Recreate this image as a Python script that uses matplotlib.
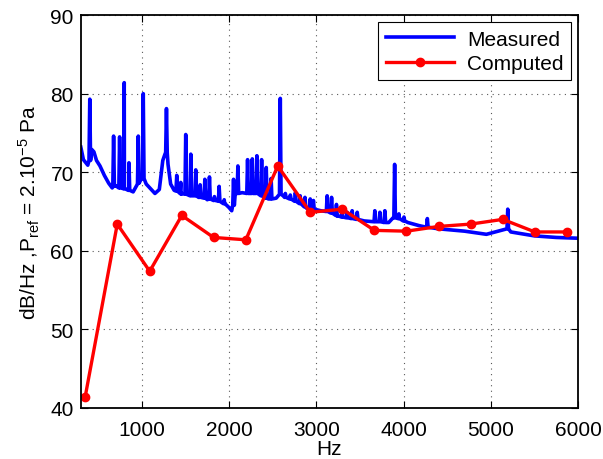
import numpy as np
import matplotlib.pyplot as plt

plt.rcParams['font.family'] = ['Liberation Sans', 'DejaVu Sans']
plt.rcParams['mathtext.default'] = 'regular'

# Computed values (red)
computed_hz = [350, 718, 1090, 1458, 1822, 2192, 2558, 2930, 3300, 3666,
               4034, 4402, 4770, 5138, 5506, 5874]
computed_db = [41.4, 63.4, 57.4, 64.5, 61.7, 61.4, 70.8, 64.9, 65.3, 62.6,
               62.5, 63.1, 63.4, 64.0, 62.4, 62.4]

# Measured spectrum (blue): smooth floor + narrow peaks
floor_hz = [300, 330, 380, 425, 450, 480, 520, 570, 620, 660, 700, 760, 800,
            850, 900, 950, 1000, 1050, 1100, 1150, 1200, 1240, 1265, 1300,
            1330, 1370, 1450, 1550, 1650, 1750, 1850, 1950, 2000, 2030, 2070,
            2150, 2300, 2450, 2540, 2620, 2750, 2890, 3050, 3240, 3400, 3550,
            3700, 3830, 3880, 3950, 4050, 4180, 4400, 4700, 4950, 5120, 5230,
            5500, 5750, 6000]
floor_db = [73.2, 71.6, 70.9, 72.9, 72.6, 71.5, 70.8, 69.6, 68.6, 68.0, 68.3,
            68.0, 67.9, 67.7, 67.5, 68.5, 69.3, 68.5, 67.9, 67.3, 67.8, 71.5,
            72.3, 71.0, 68.5, 67.7, 67.2, 67.0, 66.8, 66.5, 66.4, 66.0, 65.5,
            65.1, 67.2, 67.4, 67.3, 66.6, 66.7, 67.0, 66.3, 65.4, 65.1, 64.4,
            64.1, 63.8, 63.7, 63.6, 64.2, 64.1, 63.6, 63.2, 62.8, 62.5, 62.1,
            62.6, 62.4, 61.9, 61.7, 61.6]

peak_hz = [403, 676, 745, 798, 852, 959, 1016, 1282, 1400, 1446, 1503, 1561,
           1618, 1668, 1722, 1775, 1832, 1886, 1944, 2051, 2101, 2212, 2266,
           2319, 2373, 2426, 2482, 2587, 2645, 2702, 2760, 2815, 2870, 2930,
           2967, 3124, 3175, 3231, 3296, 3354, 3411, 3469, 3671, 3729, 3786,
           3898, 3947, 4005, 4273, 5195]
peak_db = [79.3, 74.6, 74.5, 81.4, 71.2, 74.6, 80.0, 78.1, 69.6, 68.7, 74.8,
           72.3, 70.3, 68.4, 69.1, 69.4, 66.9, 68.2, 66.5, 69.1, 70.8, 71.6,
           71.7, 72.1, 71.6, 70.6, 69.2, 79.4, 67.3, 67.1, 67.4, 67.0, 66.8,
           66.6, 66.4, 67.0, 66.8, 65.9, 65.1, 64.9, 65.1, 64.9, 65.1, 64.9,
           65.1, 71.0, 64.7, 64.3, 64.1, 65.3]
peak_foot_db = [71.5, 68.2, 68.0, 67.9, 67.7, 68.6, 69.2, 72.5, 67.6, 67.3,
                67.2, 67.0, 67.0, 66.8, 66.7, 66.6, 66.4, 66.3, 66.0, 65.8,
                67.3, 67.3, 67.3, 67.3, 67.0, 66.7, 66.6, 67.2, 66.8, 66.6,
                66.3, 66.0, 65.6, 65.4, 65.3, 65.0, 64.8, 64.5, 64.3, 64.2,
                64.1, 64.0, 63.7, 63.7, 63.6, 64.2, 64.1, 63.8, 63.0, 62.8]

# build the measured polyline
pts = list(zip(floor_hz, floor_db))
for f, tip, foot in zip(peak_hz, peak_db, peak_foot_db):
    pts += [(f - 9, foot), (f, tip), (f + 9, foot)]
pts.sort(key=lambda p: p[0])
meas_hz = [p[0] for p in pts]
meas_db = [p[1] for p in pts]

fig = plt.figure(figsize=(6.03, 4.6), dpi=100)
ax = fig.add_axes([0.134, 0.111, 0.8245, 0.854])

ax.plot(meas_hz, meas_db, color='blue', lw=2.6, label='Measured')
ax.plot(computed_hz, computed_db, color='red', lw=2.4, marker='o',
        markersize=6, label='Computed')

ax.set_xlim(300, 6000)
ax.set_ylim(40, 90)
ax.set_xticks([1000, 2000, 3000, 4000, 5000, 6000])
ax.set_yticks([40, 50, 60, 70, 80, 90])
ax.grid(True, linestyle=(0, (1, 4)), color='0.35', lw=0.8)
ax.tick_params(direction='in', top=True, right=True, labelsize=15, length=5)
ax.tick_params(axis='x', pad=9)
ax.tick_params(axis='y', pad=5)
for s in ax.spines.values():
    s.set_linewidth(1.3)

ax.set_xlabel('Hz', fontsize=15, labelpad=0)
ax.set_ylabel(r'dB/Hz ,P$_{ref}$ = 2.10$^{-5}$ Pa', fontsize=15, labelpad=6)

leg = ax.legend(loc='upper right', fontsize=15, fancybox=False,
                framealpha=1, edgecolor='black', handlelength=3.3,
                borderaxespad=0.35, labelspacing=0.25, borderpad=0.35,
                handletextpad=0.6)
leg.get_frame().set_linewidth(0.8)

fig.savefig('out.png', dpi=100)
